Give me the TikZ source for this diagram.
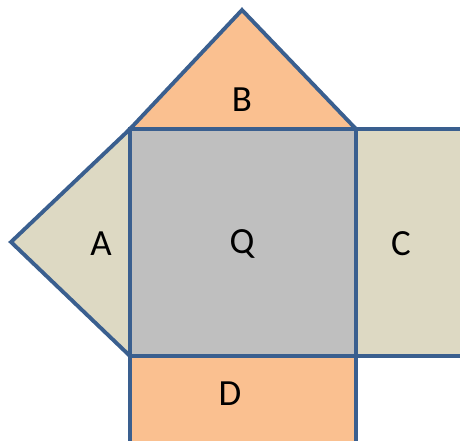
\documentclass[tikz,border=0pt]{standalone}
\usepackage{fontspec}
\setmainfont{Carlito}
\usetikzlibrary{positioning}
\definecolor{Edge}{HTML}{3A5F8F}
\definecolor{Peach}{HTML}{FAC090}
\definecolor{Sand}{HTML}{DDD9C3}
\definecolor{Slate}{HTML}{BFBFBF}
\tikzset{
  face/.style={draw=Edge,line width=2.2pt,line join=miter},
  tag/.style={font=\fontsize{21}{24}\selectfont,text=black}
}
\begin{document}
\begin{tikzpicture}[x=0.02cm,y=-0.02cm]
\useasboundingbox (0,0) rectangle (460,440);
\begin{scope}
\clip (0,0) rectangle (460,440);
\filldraw[face,fill=Sand] (356,129) -- (470,129) -- (470,356) -- (356,356);
\filldraw[face,fill=Peach] (130,450) -- (130,356) -- (356,356) -- (356,450);
\end{scope}
\filldraw[face,fill=Sand] (130,129) -- (11,242) -- (130,356) -- cycle;
\filldraw[face,fill=Peach] (130,129) -- (242,10) -- (356,129) -- cycle;
\filldraw[face,fill=Slate] (130,129) rectangle (356,356);
\node[tag] (b) at (242,100) {B};
\node[tag] (a) at (101,244) {A};
\node[tag] (q) at (242,244) {Q};
\node[tag] (c) at (401,244) {C};
\node[tag] (d) at (230,394) {D};
\end{tikzpicture}
\end{document}
